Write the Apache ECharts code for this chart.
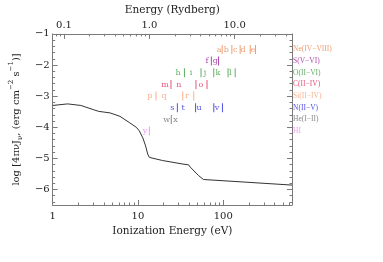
<!DOCTYPE html>
<html><head><meta charset="utf-8">
<script src="https://cdn.jsdelivr.net/npm/echarts@6/dist/echarts.min.js"></script>
<style>html,body{margin:0;padding:0;background:#fff}#c{width:383px;height:262px}</style>
</head><body><div id="c"></div>
<script>
// ---- data ----
const curveE    = [1, 1.5, 2.14, 3.04, 3.47, 4.72, 6.16, 8.03, 9.55, 10.4, 11.4, 12.3, 13.0, 13.6, 14.2, 19.4, 32.9, 39.3, 41.0, 51.2, 58.5, 640];
const curveLogJ = [-3.30, -3.25, -3.30, -3.44, -3.49, -3.54, -3.65, -3.86, -4.00, -4.12, -4.34, -4.60, -4.86, -4.97, -4.99, -5.07, -5.18, -5.21, -5.28, -5.55, -5.68, -5.86];
const ionNames  = ['Ne(IV\u2212VIII)', 'S(V\u2212VI)', 'O(II\u2212VI)', 'C(II\u2212IV)', 'Si(II\u2212IV)', 'N(II\u2212V)', 'He(I\u2212II)', 'HI'];
const ionRowY   = [-1.5, -1.875, -2.25, -2.625, -3.0, -3.375, -3.75, -4.125];
const ionColors = ['#E8864E', '#981C96', '#3A9A3A', '#E0285A', '#FA9C70', '#2424E0', '#6A6A6A', '#EE82EE'];
const letterNames = [['a','b','c','d','e'], ['f','g'], ['h','i','j','k','l'], ['m','n','o'], ['p','q','r'], ['s','t','u','v'], ['w','x'], ['y']];
const letterE   = [[89.3, 109, 138.4, 171, 223], [64.3, 80.9], [29.6, 41.8, 61, 86.9, 121.3], [20.8, 30.1, 54.8], [13.8, 20.3, 37.6], [25.3, 33.8, 52, 84.7], [21.7, 27.6], [12.1]];
const edgeE     = [[97.1, 126.2, 157.9, 207.3, 239.1], [72.6, 88.1], [35.1, 54.9, 77.4, 113.9, 138.1], [24.4, 47.9, 64.5], [16.3, 33.5, 45.1], [29.0, 47.4, 77.5, 97.9], [24.6], [13.6]];
const xMajor = [1, 10, 100];
const xMinor = [2,3,4,5,6,7,8,9,20,30,40,50,60,70,80,90,200,300,400,500,600];
const rydMajor = [0.1, 1, 10];
const rydMinor = [0.08,0.09,0.2,0.3,0.4,0.5,0.6,0.7,0.8,0.9,2,3,4,5,6,7,8,9,20,30,40];
const yMajor = [-6, -5, -4, -3, -2, -1];
const yMinor = [-6.4,-6.2,-5.8,-5.6,-5.4,-5.2,-4.8,-4.6,-4.4,-4.2,-3.8,-3.6,-3.4,-3.2,-2.8,-2.6,-2.4,-2.2,-1.8,-1.6,-1.4,-1.2];
const eMin = 1, eMax = 640, ryd = 13.6, yMin = -6.5, yMax = -1;

// ---- chart ----
const FONT = 'DejaVu Serif';
const axisCol = '#7a7a7a';
function xAx(pos, min, max, ticks, len, labels, fmt, name, nameGap, showLine) {
  return {
    type: 'log', logBase: 10, position: pos, min: min, max: max, gridIndex: 0,
    name: name || '', nameLocation: 'middle', nameGap: nameGap || 0,
    nameTextStyle: {fontFamily: FONT, fontSize: 10.5, color: '#222'},
    axisLine: {show: showLine, onZero: false, lineStyle: {color: axisCol, width: 1}},
    axisTick: {show: true, inside: true, length: len, customValues: ticks, lineStyle: {color: axisCol}},
    axisLabel: labels ? {show: true, customValues: labels, formatter: fmt, fontFamily: FONT, fontSize: 10, color: '#222', margin: pos === 'top' ? 3 : 6} : {show: false},
    splitLine: {show: false}, minorTick: {show: false}
  };
}
function yAx(pos, ticks, len, labels, showLine, name) {
  return {
    type: 'value', position: pos, min: yMin, max: yMax, gridIndex: 0,
    name: name || '', nameLocation: 'middle', nameGap: 22, nameRotate: 90,
    nameTextStyle: {
      rich: {
        t: {fontFamily: FONT, fontSize: 10, color: '#222', lineHeight: 16, verticalAlign: 'middle'},
        sub: {fontFamily: FONT, fontSize: 7, color: '#222', lineHeight: 16, verticalAlign: 'bottom'},
        sup: {fontFamily: FONT, fontSize: 7, color: '#222', lineHeight: 16, verticalAlign: 'top'}
      }
    },
    axisLine: {show: showLine, onZero: false, lineStyle: {color: axisCol, width: 1}},
    axisTick: {show: true, inside: true, length: len, customValues: ticks, lineStyle: {color: axisCol}},
    axisLabel: labels ? {show: true, customValues: labels, formatter: v => (v < 0 ? '\u2212' : '') + Math.abs(v), fontFamily: FONT, fontSize: 10, color: '#222', margin: 3} : {show: false},
    splitLine: {show: false}
  };
}

const series = [{
  type: 'line', xAxisIndex: 0, yAxisIndex: 0, symbol: 'none', silent: true,
  lineStyle: {color: '#333', width: 1},
  data: curveE.map((e, i) => [e, curveLogJ[i]])
}];
ionNames.forEach((nm, r) => {
  series.push({
    type: 'scatter', xAxisIndex: 0, yAxisIndex: 0, symbolSize: 0, silent: true,
    data: letterE[r].map((e, k) => ({value: [e, ionRowY[r]], name: letterNames[r][k]})),
    label: {show: true, position: 'inside', formatter: p => p.name, color: ionColors[r], fontFamily: FONT, fontSize: 8}
  });
  series.push({
    type: 'scatter', xAxisIndex: 0, yAxisIndex: 0, symbol: 'rect', symbolSize: [1, 9], silent: true,
    itemStyle: {color: ionColors[r]},
    data: edgeE[r].map(e => [e, ionRowY[r]])
  });
  series.push({
    type: 'scatter', xAxisIndex: 0, yAxisIndex: 0, symbolSize: 0, silent: true, clip: false,
    data: [{value: [eMax, ionRowY[r]], name: nm}],
    label: {show: true, position: 'right', distance: 1, formatter: p => p.name, color: ionColors[r], fontFamily: 'Liberation Serif', fontSize: 7.5}
  });
});

const chart = echarts.init(document.getElementById('c'), null, {renderer: 'canvas'});
chart.setOption({
  animation: false,
  backgroundColor: '#fff',
  grid: {left: 48, top: 31, right: 91, bottom: 57},
  xAxis: [
    xAx('bottom', eMin, eMax, xMajor, 5, xMajor, v => String(v), 'Ionization Energy (eV)', 18, true),
    xAx('top', eMin / ryd, eMax / ryd, rydMajor, 5, rydMajor, v => Number(v).toFixed(1), 'Energy (Rydberg)', 13, true),
    xAx('bottom', eMin, eMax, xMinor, 2.5, null, null, '', 0, false),
    xAx('top', eMin / ryd, eMax / ryd, rydMinor, 2.5, null, null, '', 0, false)
  ],
  yAxis: [
    yAx('left', yMajor, 5, yMajor, true, '{t|log [4\u03C0\u03BDJ}{sub|\u03BD}{t|, (erg cm}{sup|\u22122}{t| s}{sup|\u22121}{t|)]}'),
    yAx('right', yMajor, 5, null, true, ''),
    yAx('left', yMinor, 2.5, null, false, ''),
    yAx('right', yMinor, 2.5, null, false, '')
  ],
  series: series
});
</script></body></html>
